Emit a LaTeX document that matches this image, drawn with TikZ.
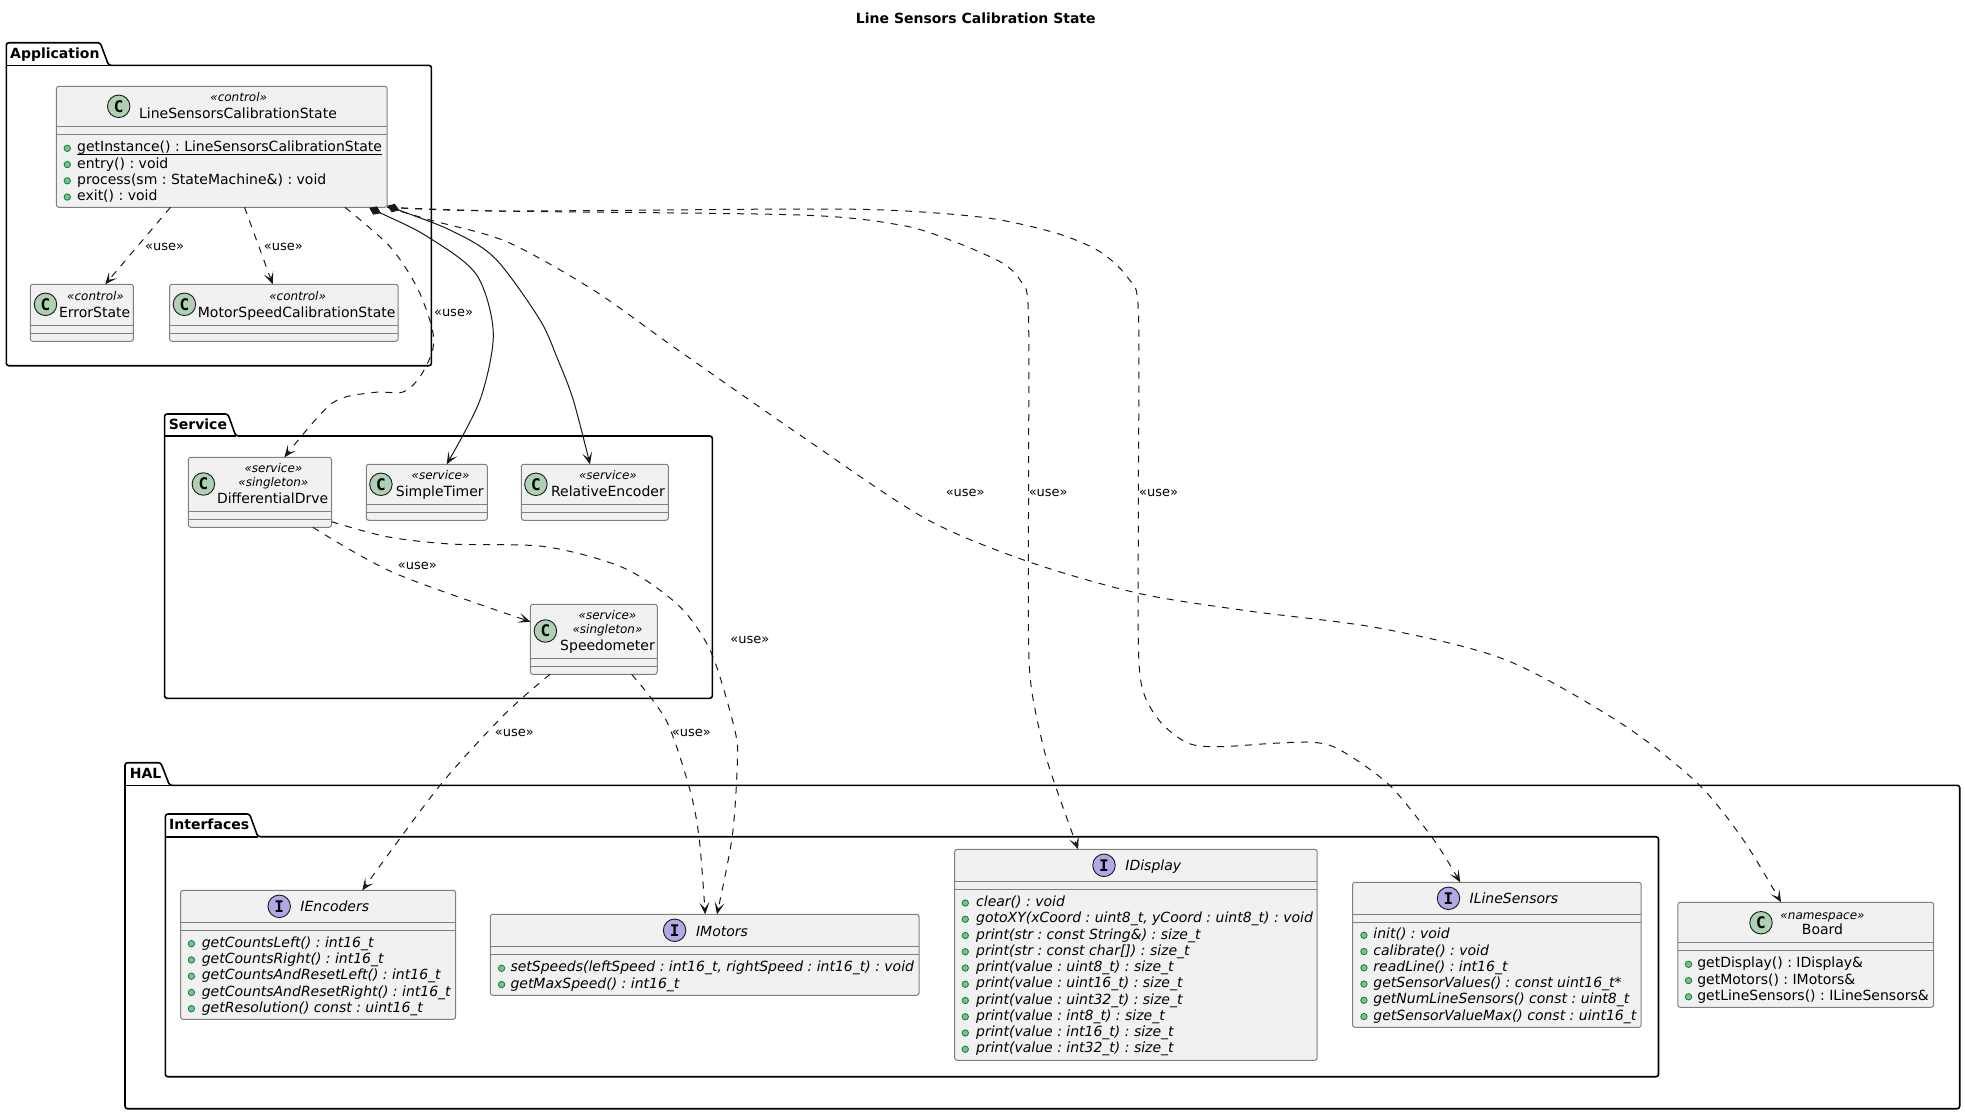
\documentclass[tikz,border=0pt]{standalone}
\usepackage{fontspec}
\setmainfont{DejaVu Sans}
\newfontfamily\badgefont{DejaVu Sans Mono}
\usetikzlibrary{arrows.meta,fit}
\definecolor{boxfill}{HTML}{F1F1F1}
\definecolor{boxline}{HTML}{7F7F7F}
\definecolor{linkcol}{HTML}{181818}
\definecolor{classbadge}{HTML}{ADD1B2}
\definecolor{ifacebadge}{HTML}{B4A7E5}
\definecolor{pubfill}{HTML}{84BE84}
\definecolor{publine}{HTML}{038048}
\tikzset{
    classbox/.style={draw=boxline, fill=boxfill, rounded corners=2.5pt, line width=1pt, inner sep=0pt, outer sep=0pt},
    sepline/.style={draw=boxline, line width=1pt},
    pkgline/.style={draw=black, line width=1.6pt, rounded corners=2.5pt},
    pkgname/.style={anchor=base west, inner sep=0pt, font=\fontsize{14}{16}\selectfont\bfseries},
    badge/.style={circle, draw=linkcol, line width=0.9pt, minimum size=22.5pt, inner sep=0pt, font=\fontsize{16}{16}\selectfont\badgefont\bfseries},
    classname/.style={anchor=base, inner sep=0pt, font=\fontsize{14}{16}\selectfont},
    stereo/.style={anchor=base, inner sep=0pt, font=\fontsize{12}{14}\selectfont\itshape},
    member/.style={anchor=base west, inner sep=0pt, font=\fontsize{14}{16}\selectfont},
    pubdot/.style={draw=publine, fill=pubfill, line width=0.8pt},
    uselabel/.style={inner sep=0pt, font=\fontsize{13}{15}\selectfont},
    usedep/.style={draw=linkcol, line width=1pt, dash pattern=on 7pt off 7pt, -{Stealth[length=12pt,width=10pt,inset=6pt]}},
    owns/.style={draw=linkcol, line width=1pt, {Diamond[length=13pt,width=9pt]}-{Stealth[length=12pt,width=10pt,inset=6pt]}},
}
% bullet and text of each member row: prefix, bullet x, text x, first bullet y, text style, rows
\newcommand{\memberrows}[6]{
    \foreach \row/\txt in {#6} {
        \draw[pubdot] (#2,{#4+16.25*\row}) circle[radius=3.2pt];
        \node[member,#5] (#1-\row) at (#3,{#4+3.6+16.25*\row}) {\txt};
    }
}
\begin{document}
\frenchspacing
\begin{tikzpicture}[y={-1pt}, x={1pt}]
    \useasboundingbox (0,0) rectangle (1965,1114);
    \node[inner sep=0pt, anchor=base, font=\fontsize{14}{16}\selectfont\bfseries] (title) at (975.8,23.3) {Line Sensors Calibration State};

    \foreach \pkg/\xa/\ya/\xb/\xc/\yb/\xd/\yc/\tx/\ty/\label in {
        application/6.3/42.7/100.2/108.6/65.3/431.4/365.7/10/58.3/Application,
        service/164.6/414/227.9/235.8/436/712.3/698.3/168.6/429/Service,
        hal/125/762.7/160.8/169.5/785.3/1959.7/1108.7/129.7/778.3/HAL,
        interfaces/165.4/814/249.6/257.8/836.7/1658.5/1076.7/169/829.3/Interfaces} {
        \draw[pkgline] (\xa,\yb) -- (\xa,\ya) -- (\xb,\ya) -- (\xc,\yb) -- (\xd,\yb) -- (\xd,\yc) -- (\xa,\yc) -- cycle;
        \draw[pkgline] (\xa,\yb) -- (\xc,\yb);
        \node[pkgname] (\pkg) at (\tx,\ty) {\label};
    }

    \foreach \name/\xa/\ya/\xb/\yb/\sep in {
        lscs/56.4/86.3/387.2/207.3/126.7,
        errorstate/30.3/284.3/133.4/341.3/325.7,
        motorspeed/169.6/284.3/398.2/341.3/325.7,
        diffdrive/188.4/457.3/331.5/527.3/511.7,
        simpletimer/366.3/464.3/487.3/520.3/504.3,
        relencoder/521.3/464.3/668.4/520.3/504.3,
        speedometer/530.4/604.3/657.3/674.3/658.3,
        iencoders/180.7/890.3/455.7/1019.3/922.3,
        imotors/490.4/914.3/919/995.3/946.3,
        idisplay/954.7/849.3/1317.2/1060.3/881.3,
        ilinesensors/1352.5/882.3/1641.2/1027.3/914.3,
        board/1677.8/902.3/1933.7/1007.3/942.3} {
        \node[classbox, fit={(\xa,\ya) (\xb,\yb)}] (\name) {};
        \draw[sepline] (\xa,\sep) -- (\xb,\sep);
        \draw[sepline] (\xa,\sep+7.8) -- (\xb,\sep+7.8);
    }

    \foreach \name/\x/\y in {lscs/118.7/106.3, errorstate/45.5/304.3, motorspeed/184.4/304.3,
        diffdrive/203.4/484, simpletimer/380.9/484.3, relencoder/535.9/484.3,
        speedometer/545.4/631, board/1761/922.7} {
        \node[badge, fill=classbadge] (\name-badge) at (\x,\y) {C};
    }
    \foreach \name/\x/\y in {iencoders/279.2/906.3, imotors/674.6/930.3,
        idisplay/1104/865.3, ilinesensors/1448.5/898.3} {
        \node[badge, fill=ifacebadge] (\name-badge) at (\x,\y) {I};
    }

    \foreach \name/\x/\y/\txt in {lscs/238/118.3/LineSensorsCalibrationState,
        errorstate/94.7/317.3/ErrorState, motorspeed/296.7/317.3/MotorSpeedCalibrationState,
        diffdrive/272.6/503/DifferentialDrve, simpletimer/439.8/496/SimpleTimer,
        relencoder/607.9/496/RelativeEncoder, speedometer/607.5/650/Speedometer,
        board/1822.5/934.3/Board} {
        \node[classname] (\name-title) at (\x,\y) {\txt};
    }
    \foreach \name/\x/\y/\txt in {iencoders/334.8/911.3/IEncoders, imotors/722/936/IMotors,
        idisplay/1153.3/870.3/IDisplay, ilinesensors/1513.9/903.3/ILineSensors} {
        \node[classname, font=\fontsize{14}{16}\selectfont\itshape] (\name-title) at (\x,\y) {\txt};
    }
    \foreach \name/\x/\y/\txt in {lscs/238.7/101.7/control, errorstate/95.5/300.4/control,
        motorspeed/297.6/300.4/control, diffdrive/273.4/472.7/service, simpletimer/440.6/479.7/service,
        relencoder/607.9/479.7/service, speedometer/607.5/619.7/service, board/1822.5/919/namespace} {
        \node[stereo] (\name-stereo) at (\x,\y) {«\txt»};
    }
    \node[stereo] (diffdrive-single) at (273.4,486.7) {«singleton»};
    \node[stereo] (speedometer-single) at (607.5,633.7) {«singleton»};

    \memberrows{lscs}{67.3}{77}{148.3}{}{0/{getInstance() : LineSensorsCalibrationState},
        1/{entry() : void}, 2/{process(sm : StateMachine\&) : void}, 3/{exit() : void}}
    % static member is underlined
    \draw[draw=black, line width=1pt] ([yshift=-2.4pt]lscs-0.base west) -- ([yshift=-2.4pt]lscs-0.base east);
    \memberrows{iencoders}{191.4}{201.6}{943.7}{font=\fontsize{14}{16}\selectfont\itshape}{0/{getCountsLeft() : int16\_t},
        1/{getCountsRight() : int16\_t}, 2/{getCountsAndResetLeft() : int16\_t},
        3/{getCountsAndResetRight() : int16\_t}, 4/{getResolution() const : uint16\_t}}
    \memberrows{imotors}{501.6}{510.3}{968.3}{font=\fontsize{14}{16}\selectfont\itshape}{0/{setSpeeds(leftSpeed : int16\_t, rightSpeed : int16\_t) : void},
        1/{getMaxSpeed() : int16\_t}}
    \memberrows{idisplay}{965.3}{976}{903}{font=\fontsize{14}{16}\selectfont\itshape}{0/{clear() : void},
        1/{gotoXY(xCoord : uint8\_t, yCoord : uint8\_t) : void}, 2/{print(str : const String\&) : size\_t},
        3/{print(str : const char[]) : size\_t}, 4/{print(value : uint8\_t) : size\_t},
        5/{print(value : uint16\_t) : size\_t}, 6/{print(value : uint32\_t) : size\_t},
        7/{print(value : int8\_t) : size\_t}, 8/{print(value : int16\_t) : size\_t},
        9/{print(value : int32\_t) : size\_t}}
    \memberrows{ilinesensors}{1363.9}{1373.2}{935.3}{font=\fontsize{14}{16}\selectfont\itshape}{0/{init() : void},
        1/{calibrate() : void}, 2/{readLine() : int16\_t}, 3/{getSensorValues() : const uint16\_t*},
        4/{getNumLineSensors() const : uint8\_t}, 5/{getSensorValueMax() const : uint16\_t}}
    \memberrows{board}{1688.5}{1697.1}{964.3}{}{0/{getDisplay() : IDisplay\&},
        1/{getMotors() : IMotors\&}, 2/{getLineSensors() : ILineSensors\&}}

    % dependencies out of the state class
    \draw[usedep] ([xshift=114.1pt]lscs.south west) -- ([xshift=74.9pt]errorstate.north west);
    \draw[usedep] ([xshift=188.1pt]lscs.south west) -- ([xshift=103.1pt]motorspeed.north west);
    \draw[usedep] plot[smooth] coordinates {([xshift=288.6pt]lscs.south west) (390,246.7) (416.7,286.7) (431.7,326.7) (432.7,350) (420,376.7) (403,392) (373.3,392.5) (331.9,403.3) ([xshift=96pt]diffdrive.north west)};
    \draw[usedep] plot[smooth] coordinates {(lscs.south east) (500,211) (800,215) (900,225) (950,240) (1000,261.7) (1020,280) (1028.3,310) (1028.5,490) (1028.6,643) (1032.1,693) (1043.3,746.7) (1054.5,783.3) ([xshift=123.4pt]idisplay.north west)};
    \draw[usedep] plot[smooth] coordinates {(lscs.south east) (500,211) (800,209) (900,210.7) (990,218.3) (1056.7,233.3) (1100,251.7) (1128.3,278.3) (1138.3,310) (1138.4,490) (1138.4,646.7) (1143.7,693) (1161.6,723.3) (1188.4,743.3) (1219.6,746.7) (1273.2,743.3) (1313.4,742.3) (1340.2,750) (1389.3,785) (1433.9,840) ([xshift=107.7pt]ilinesensors.north west)};
    \draw[usedep] plot[smooth] coordinates {(lscs.south east) (430,220) (506.7,241.7) (593.3,290) (673.3,346.7) (800,435) (925,518.3) (1028.6,561.7) (1138.4,593.3) (1246.4,610.7) (1380.3,628.3) (1506,660) (1621,723.3) (1697.5,783.3) (1743.4,840) ([xshift=103.2pt]board.north west)};

    % owned services
    \draw[owns] plot[smooth] coordinates {([xshift=-18pt,yshift=-0.5pt]lscs.south east) (430,238.3) (476.7,275) (493.3,333.3) (480,400) ([xshift=80.4pt]simpletimer.north west)};
    \draw[owns] plot[smooth] coordinates {([yshift=1.5pt]lscs.south east) (456.7,233.3) (496.7,260) (540,320) (558,360) (573.3,400) ([xshift=68.7pt]relencoder.north west)};

    % service and hal dependencies
    \draw[usedep] plot[smooth] coordinates {([xshift=124.5pt]diffdrive.south west) (395,573.3) ([yshift=-17.4pt]speedometer.north west)};
    \draw[usedep] plot[smooth] coordinates {([yshift=5.6pt]diffdrive.south east) (387,536.7) (450.5,544) (545.4,546.7) (624.5,568.3) (679.8,606.7) (711.5,653.3) (734.8,730) (737.3,763) (732.2,836.7) ([xshift=226.6pt]imotors.north west)};
    \draw[usedep] plot[smooth] coordinates {([xshift=101.2pt]speedometer.south west) (666,720) (689,786.7) (699,836.7) ([xshift=214.8pt]imotors.north west)};
    \draw[usedep] plot[smooth] coordinates {([xshift=19.6pt]speedometer.south west) (503.9,715) (438.9,786.7) ([xshift=181.6pt]iencoders.north west)};

    \foreach \name/\x/\y in {errorstate/164.6/247, motorspeed/283.3/247, diffdrive/453.5/312.7,
        speedometer/417.3/566, imotors/749.8/640, iencoders/514.4/732.7, imotorsb/691.4/732.7,
        idisplay/1048.2/492.7, ilinesensors/1158.5/492.7, board/965.2/492.7} {
        \node[uselabel] (use-\name) at (\x,\y) {«use»};
    }
\end{tikzpicture}
\end{document}
